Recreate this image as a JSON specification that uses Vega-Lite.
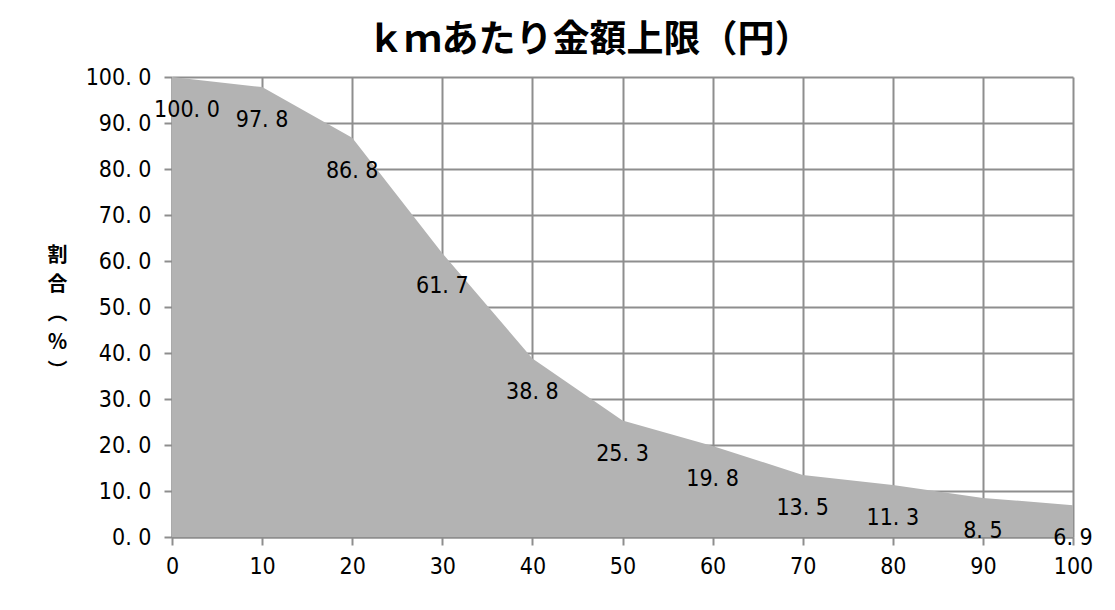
{
  "$schema": "https://vega.github.io/schema/vega-lite/v6.json",
  "autosize": {"type": "none"},
  "width": 901,
  "height": 460,
  "padding": {"left": 172, "top": 77, "right": 42, "bottom": 73},
  "background": "white",
  "title": {
    "text": "ｋｍあたり金額上限（円）",
    "font": "Noto Sans CJK JP",
    "fontSize": 37,
    "fontWeight": "bold",
    "color": "#000000",
    "anchor": "middle",
    "frame": "group",
    "dx": -33,
    "offset": 6
  },
  "data": {
    "values": [
      {"x": 0, "v": 100.0},
      {"x": 10, "v": 97.8},
      {"x": 20, "v": 86.8},
      {"x": 30, "v": 61.7},
      {"x": 40, "v": 38.8},
      {"x": 50, "v": 25.3},
      {"x": 60, "v": 19.8},
      {"x": 70, "v": 13.5},
      {"x": 80, "v": 11.3},
      {"x": 90, "v": 8.5},
      {"x": 100, "v": 6.9}
    ]
  },
  "encoding": {
    "x": {
      "field": "x",
      "type": "quantitative",
      "scale": {"domain": [0, 100], "nice": false, "zero": true},
      "axis": {
        "values": [0, 10, 20, 30, 40, 50, 60, 70, 80, 90, 100],
        "title": null,
        "grid": true,
        "labelFlush": false,
        "labelPadding": 10,
        "tickSize": 8
      }
    },
    "y": {
      "field": "v",
      "type": "quantitative",
      "scale": {"domain": [0, 100], "nice": false},
      "axis": {
        "values": [0, 10, 20, 30, 40, 50, 60, 70, 80, 90, 100],
        "labelExpr": "replace(format(datum.value, '.1f'), '.', '. ')",
        "grid": true,
        "labelPadding": 13,
        "tickSize": 8,
        "title": ["割", "合", "︵", "％", "︶"],
        "titleAngle": 0,
        "titleFont": "Noto Sans CJK JP",
        "titleFontSize": 20,
        "titleFontWeight": "bold",
        "titleLineHeight": 29,
        "titleAlign": "center",
        "titleBaseline": "middle",
        "titleX": -115,
        "titleY": 178
      }
    }
  },
  "layer": [
    {
      "mark": {"type": "area", "color": "#b3b3b3", "opacity": 1, "interpolate": "linear"}
    },
    {
      "mark": {
        "type": "text",
        "font": "DejaVu Sans Condensed, Liberation Sans, sans-serif",
        "fontSize": 23,
        "color": "#000000",
        "align": "center",
        "baseline": "middle",
        "dy": 33,
        "dx": {"expr": "datum.x == 0 ? 15 : 0"},
        "text": {"expr": "replace(format(datum.v, '.1f'), '.', '. ')"}
      }
    }
  ],
  "config": {
    "view": {"stroke": null},
    "axis": {
      "labelFont": "DejaVu Sans Condensed, Liberation Sans, sans-serif",
      "labelFontSize": 23,
      "labelColor": "#000000",
      "gridColor": "#8e8e8e",
      "gridWidth": 2,
      "gridOpacity": 1,
      "domainColor": "#8e8e8e",
      "domainWidth": 2,
      "tickColor": "#8e8e8e",
      "tickWidth": 2
    }
  }
}
